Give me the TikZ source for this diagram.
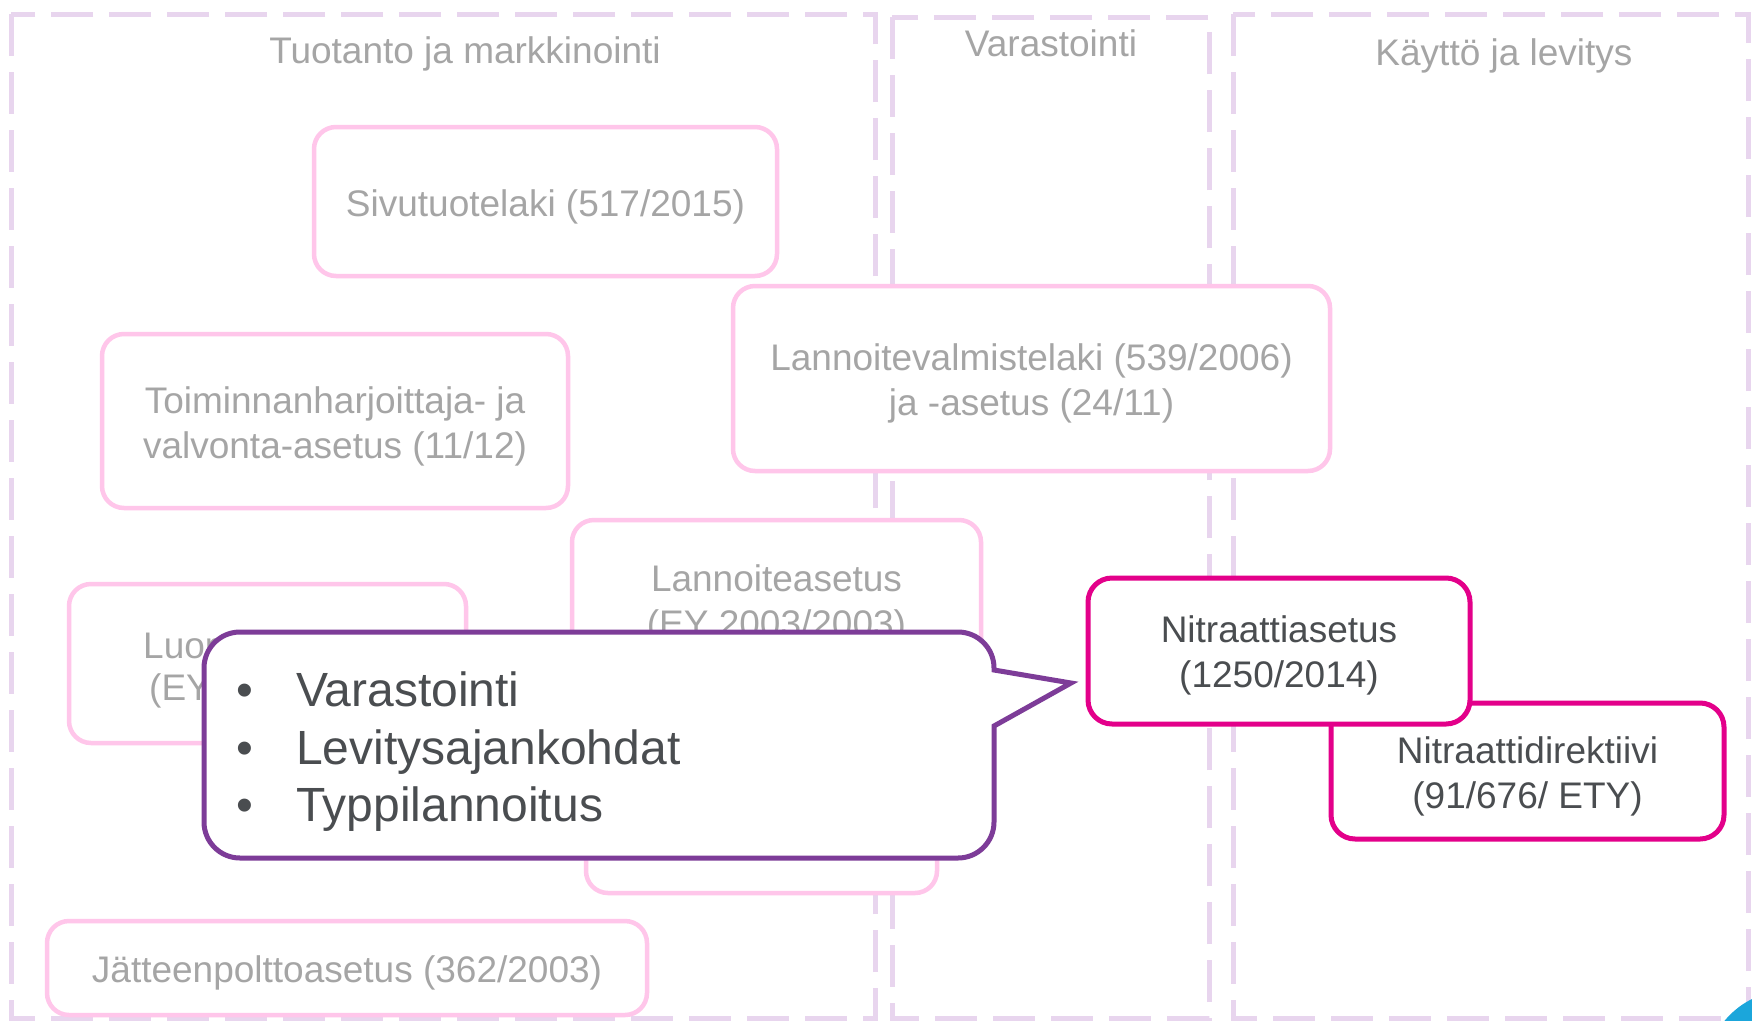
\documentclass[tikz,border=0pt]{standalone}
\usepackage{fontspec}
\setmainfont{Liberation Sans}
\definecolor{lav}{HTML}{E8D5EE}
\definecolor{pinkline}{HTML}{FFC6EA}
\definecolor{graytxt}{HTML}{A5A5A5}
\definecolor{magline}{HTML}{E3008A}
\definecolor{purp}{HTML}{7D3C98}
\definecolor{darktxt}{HTML}{4A4D50}
\definecolor{blueball}{HTML}{1BA6DB}
\tikzset{
  column/.style={draw=lav, line width=5pt, dash pattern=on 42pt off 16pt},
  header/.style={text=graytxt, font=\fontsize{37}{45}\selectfont, inner sep=0pt},
  pinkbox/.style={draw=pinkline, fill=white, line width=4.5pt, rounded corners=22pt, inner sep=0pt},
  magbox/.style={draw=magline, fill=white, line width=5pt, rounded corners=24pt, inner sep=0pt},
  graylabel/.style={text=graytxt, align=center, font=\fontsize{37}{45}\selectfont, inner sep=0pt},
  darklabel/.style={text=darktxt, align=center, font=\fontsize{37}{45}\selectfont, inner sep=0pt},
  callout/.style={draw=purp, fill=white, line width=5pt, line join=miter},
  bullettxt/.style={text=darktxt, font=\fontsize{48}{58}\selectfont, inner sep=0pt, anchor=base west},
}
\begin{document}
\begin{tikzpicture}[x=1pt,y=-1pt]
\useasboundingbox (0,0) rectangle (1752,1020);
\clip (0,0) rectangle (1752,1020);
\fill[white] (0,0) rectangle (1752,1020);

% columns
\draw[column] (11,14) rectangle (875,1018);
\draw[column] (892,17) rectangle (1209,1018);
\draw[column] (1233,14) rectangle (1748,1018);
\node[header] (h1) at (465,53.5) {Tuotanto ja markkinointi};
\node[header] (h2) at (1051,43.5) {Varastointi};
\node[header] (h3) at (1504,55.5) {Käyttö ja levitys};

% gray boxes
\node[pinkbox, minimum width=463pt, minimum height=149pt] (sivu) at (545.5,201.5) {};
\node[graylabel] (sivut) at ([yshift=-5pt]sivu.center) {Sivutuotelaki (517/2015)};
\node[pinkbox, minimum width=466pt, minimum height=174pt] (toim) at (335,421) {};
\node[graylabel] (toimt) at ([yshift=-5pt]toim.center) {Toiminnanharjoittaja- ja\\valvonta-asetus (11/12)};
\node[pinkbox, minimum width=597pt, minimum height=185pt] (lval) at (1031.5,378.5) {};
\node[graylabel] (lvalt) at ([yshift=-5pt]lval.center) {Lannoitevalmistelaki (539/2006)\\ja -asetus (24/11)};
\node[pinkbox, minimum width=409pt, minimum height=240pt] (lase) at (776.5,640) {};
\node[graylabel] (laset) at (776.5,604) {Lannoiteasetus\\(EY 2003/2003)};
\node[pinkbox, minimum width=351pt, minimum height=193pt] (lower) at (761.5,796.5) {};
\node[pinkbox, minimum width=397pt, minimum height=159pt] (luo) at (267.5,663.5) {};
\node[graylabel, anchor=west] (luo1) at (143,645.5) {Luom};
\node[graylabel, anchor=west] (luo2) at (149,690.5) {(EY};
\node[pinkbox, minimum width=600pt, minimum height=94pt] (jatte) at (347,968) {};
\node[graylabel] (jattet) at ([yshift=-4.5pt]jatte.center) {Jätteenpolttoasetus (362/2003)};

% highlighted boxes
\node[magbox, minimum width=393pt, minimum height=136pt] (nitdir) at (1527.5,771) {};
\node[darklabel] (nitdirt) at ([yshift=-5pt]nitdir.center) {Nitraattidirektiivi\\(91/676/ ETY)};
\node[magbox, minimum width=382pt, minimum height=146pt] (nitas) at (1279,651) {};
\node[darklabel] (nitast) at ([yshift=-4.5pt]nitas.center) {Nitraattiasetus\\(1250/2014)};

% callout
\coordinate (tip) at (1071,683);
\draw[callout] (240,632) -- (958,632) arc(-90:0:36) -- (994,670) -- (tip) -- (994,726)
  -- (994,822) arc(0:90:36) -- (240,858) arc(90:180:36) -- (204,668) arc(180:270:36) -- cycle;
\node[bullettxt] (b1) at (236,706) {•};
\node[bullettxt] (b2) at (236,764) {•};
\node[bullettxt] (b3) at (236,821) {•};
\node[bullettxt] (t1) at (296,706) {Varastointi};
\node[bullettxt] (t2) at (296,764) {Levitysajankohdat};
\node[bullettxt] (t3) at (296,821) {Typpilannoitus};

% corner ball
\fill[blueball] (1790,1075) circle (85);
\end{tikzpicture}
\end{document}
